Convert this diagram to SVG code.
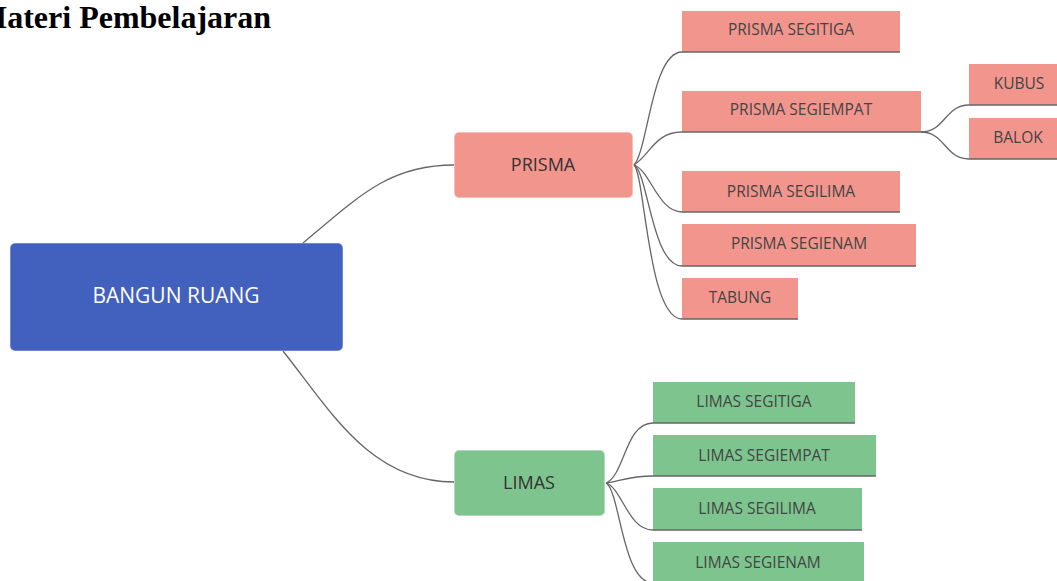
<svg xmlns="http://www.w3.org/2000/svg" width="1057" height="581" viewBox="0 0 1057 581">
<style>
.title{font-family:"Liberation Serif","Times New Roman",serif;font-weight:bold;font-size:32px;fill:#000}
.lbl{font-family:"Open Sans","Noto Sans",sans-serif;text-anchor:middle}
.root{fill:#4260BE;stroke:#ffffff;stroke-opacity:0.35;stroke-width:1.5}
.mainP{fill:#F2958D;stroke:#ffffff;stroke-opacity:0.5;stroke-width:1.5}
.mainL{fill:#7DC48E;stroke:#ffffff;stroke-opacity:0.5;stroke-width:1.5}
.subP{fill:#F2958D}
.subL{fill:#7DC48E}
.t-root{fill:#ffffff;font-size:21px}
.t-main{fill:#333333;font-size:18px}
.t-sub{fill:#444444;font-size:15.5px}
.conn path{fill:none;stroke:#666666;stroke-width:1.3}
</style>
<rect width="1057" height="581" fill="#ffffff"/>
<text class="title" x="-23" y="28">Materi Pembelajaran</text>

<g id="n-bangun-ruang">
<rect class="root" x="10" y="243" width="333" height="108" rx="5"/>
<text class="lbl t-root" x="176" y="303">BANGUN RUANG</text>
</g>

<g id="n-prisma">
<rect class="mainP" x="454" y="132" width="179" height="66" rx="5"/>
<text class="lbl t-main" x="543" y="171">PRISMA</text>
</g>
<g id="n-limas">
<rect class="mainL" x="454" y="450" width="151" height="66" rx="5"/>
<text class="lbl t-main" x="529" y="489">LIMAS</text>
</g>

<g id="n-prisma-segitiga">
<rect class="subP" x="682" y="11" width="218" height="41"/>
<text class="lbl t-sub" x="791" y="35">PRISMA SEGITIGA</text>
</g>
<g id="n-prisma-segiempat">
<rect class="subP" x="682" y="91" width="239" height="41"/>
<text class="lbl t-sub" x="801" y="115">PRISMA SEGIEMPAT</text>
</g>
<g id="n-kubus">
<rect class="subP" x="969" y="64" width="100" height="41"/>
<text class="lbl t-sub" x="1019" y="89">KUBUS</text>
</g>
<g id="n-balok">
<rect class="subP" x="969" y="118" width="100" height="41"/>
<text class="lbl t-sub" x="1018" y="143">BALOK</text>
</g>
<g id="n-prisma-segilima">
<rect class="subP" x="682" y="171" width="218" height="41"/>
<text class="lbl t-sub" x="791" y="197">PRISMA SEGILIMA</text>
</g>
<g id="n-prisma-segienam">
<rect class="subP" x="682" y="224" width="234" height="42"/>
<text class="lbl t-sub" x="799" y="249">PRISMA SEGIENAM</text>
</g>
<g id="n-tabung">
<rect class="subP" x="682" y="278" width="116" height="41"/>
<text class="lbl t-sub" x="740" y="303">TABUNG</text>
</g>

<g id="n-limas-segitiga">
<rect class="subL" x="653" y="382" width="202" height="41"/>
<text class="lbl t-sub" x="754" y="407">LIMAS SEGITIGA</text>
</g>
<g id="n-limas-segiempat">
<rect class="subL" x="653" y="435" width="223" height="41"/>
<text class="lbl t-sub" x="764" y="461">LIMAS SEGIEMPAT</text>
</g>
<g id="n-limas-segilima">
<rect class="subL" x="653" y="488" width="209" height="42"/>
<text class="lbl t-sub" x="757" y="514">LIMAS SEGILIMA</text>
</g>
<g id="n-limas-segienam">
<rect class="subL" x="653" y="542" width="211" height="41"/>
<text class="lbl t-sub" x="758" y="568">LIMAS SEGIENAM</text>
</g>

<g id="connectors" class="conn">
<path d="M303 243 C360 195 390 165 454 165"/>
<path d="M283 351 C330 410 370 482 454 482"/>
<path d="M634 165 C648 150 652 52 682 52 H900"/>
<path d="M634 165 C650 155 655 132 682 132 H921"/>
<path d="M634 165 C650 170 658 212 682 212 H900"/>
<path d="M634 165 C648 172 652 266 682 266 H916"/>
<path d="M634 165 C645 175 648 319 682 319 H798"/>
<path d="M921 132 C945 132 945 105 969 105 H1069"/>
<path d="M921 132 C945 132 945 159 969 159 H1069"/>
<path d="M606 483 C625 475 625 423 653 423 H855"/>
<path d="M606 483 C620 481 630 476 653 476 H876"/>
<path d="M606 483 C622 488 628 530 653 530 H862"/>
<path d="M606 483 C620 490 622 583 653 583 H864"/>
</g>
</svg>
